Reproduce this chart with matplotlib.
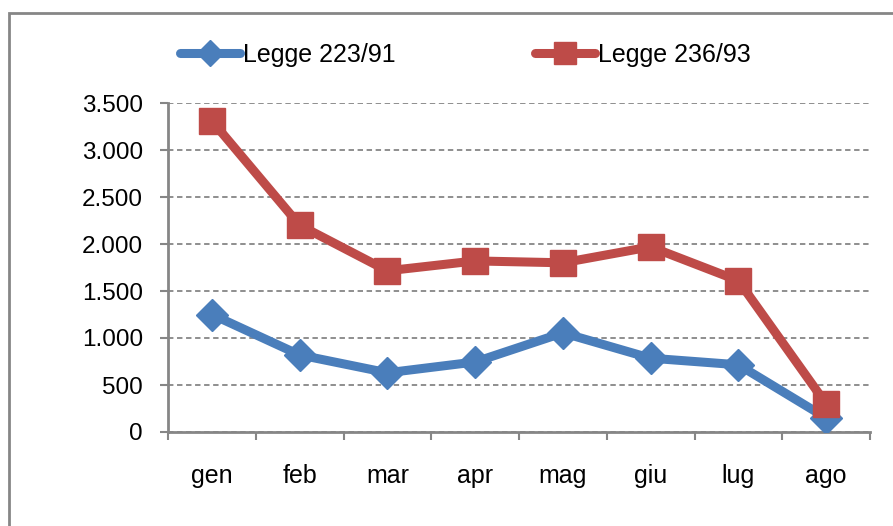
import matplotlib
matplotlib.use("Agg")
import matplotlib.pyplot as plt
from matplotlib.patches import Rectangle
from matplotlib.ticker import FuncFormatter, FixedLocator

# monthly values
mesi = ["gen", "feb", "mar", "apr", "mag", "giu", "lug", "ago"]
legge_223_91 = [1250, 820, 630, 745, 1055, 785, 715, 150]
legge_236_93 = [3310, 2200, 1715, 1820, 1800, 1970, 1610, 300]
y_ticks = [0, 500, 1000, 1500, 2000, 2500, 3000, 3500]

plt.rcParams["font.family"] = ["Liberation Sans", "DejaVu Sans"]
grigio = "#868686"
blu = "#4A7EBB"
rosso = "#BE4B48"

fig = plt.figure(figsize=(8.93, 5.26), dpi=100)
ax = fig.add_axes([168/893, 1-432/526, (870-168)/893, (432-103)/526])

x = list(range(len(mesi)))
l1, = ax.plot(x, legge_223_91, color=blu, lw=6.5, marker="D", ms=16,
              solid_capstyle="round", label="Legge 223/91", zorder=3)
l2, = ax.plot(x, legge_236_93, color=rosso, lw=6.5, marker="s", ms=19,
              solid_capstyle="round", label="Legge 236/93", zorder=4)

ax.set_xlim(-0.5, len(mesi)-0.5)
ax.set_ylim(0, 3500)
ax.set_yticks(y_ticks)
ax.yaxis.set_major_formatter(FuncFormatter(lambda v, p: f"{int(v):,}".replace(",", ".")))
ax.xaxis.set_major_locator(FixedLocator([i-0.5 for i in range(len(mesi)+1)]))
ax.xaxis.set_major_formatter(FuncFormatter(lambda v, p: ""))
ax.xaxis.set_minor_locator(FixedLocator(x))
ax.set_xticklabels(mesi, minor=True)
ax.tick_params(axis="x", which="major", length=6, width=1.5, color=grigio, direction="out")
ax.tick_params(axis="x", which="minor", length=0, pad=23, labelsize=18)
ax.tick_params(axis="y", length=6, width=1.5, color=grigio, pad=12, labelsize=17.5)

ax.grid(axis="y", color=grigio, ls=(0, (3, 2)), lw=1.3)
ax.set_axisbelow(True)
for s in ["top", "right"]:
    ax.spines[s].set_visible(False)
for s in ["left", "bottom"]:
    ax.spines[s].set_color(grigio)
    ax.spines[s].set_linewidth(2)

fig.legend(handles=[l1, l2], loc="center", bbox_to_anchor=(0.521, 0.895), ncol=2,
           frameon=False, fontsize=18, handlelength=2.4, handletextpad=0.1,
           columnspacing=5.6, markerscale=0.8)

# outer chart border (cut off at right and bottom)
fig.add_artist(Rectangle((9/893, -0.2), 1.2, 1.2-13/526, transform=fig.transFigure,
                         fill=False, ec=grigio, lw=2))

fig.savefig("out.png", dpi=100)
